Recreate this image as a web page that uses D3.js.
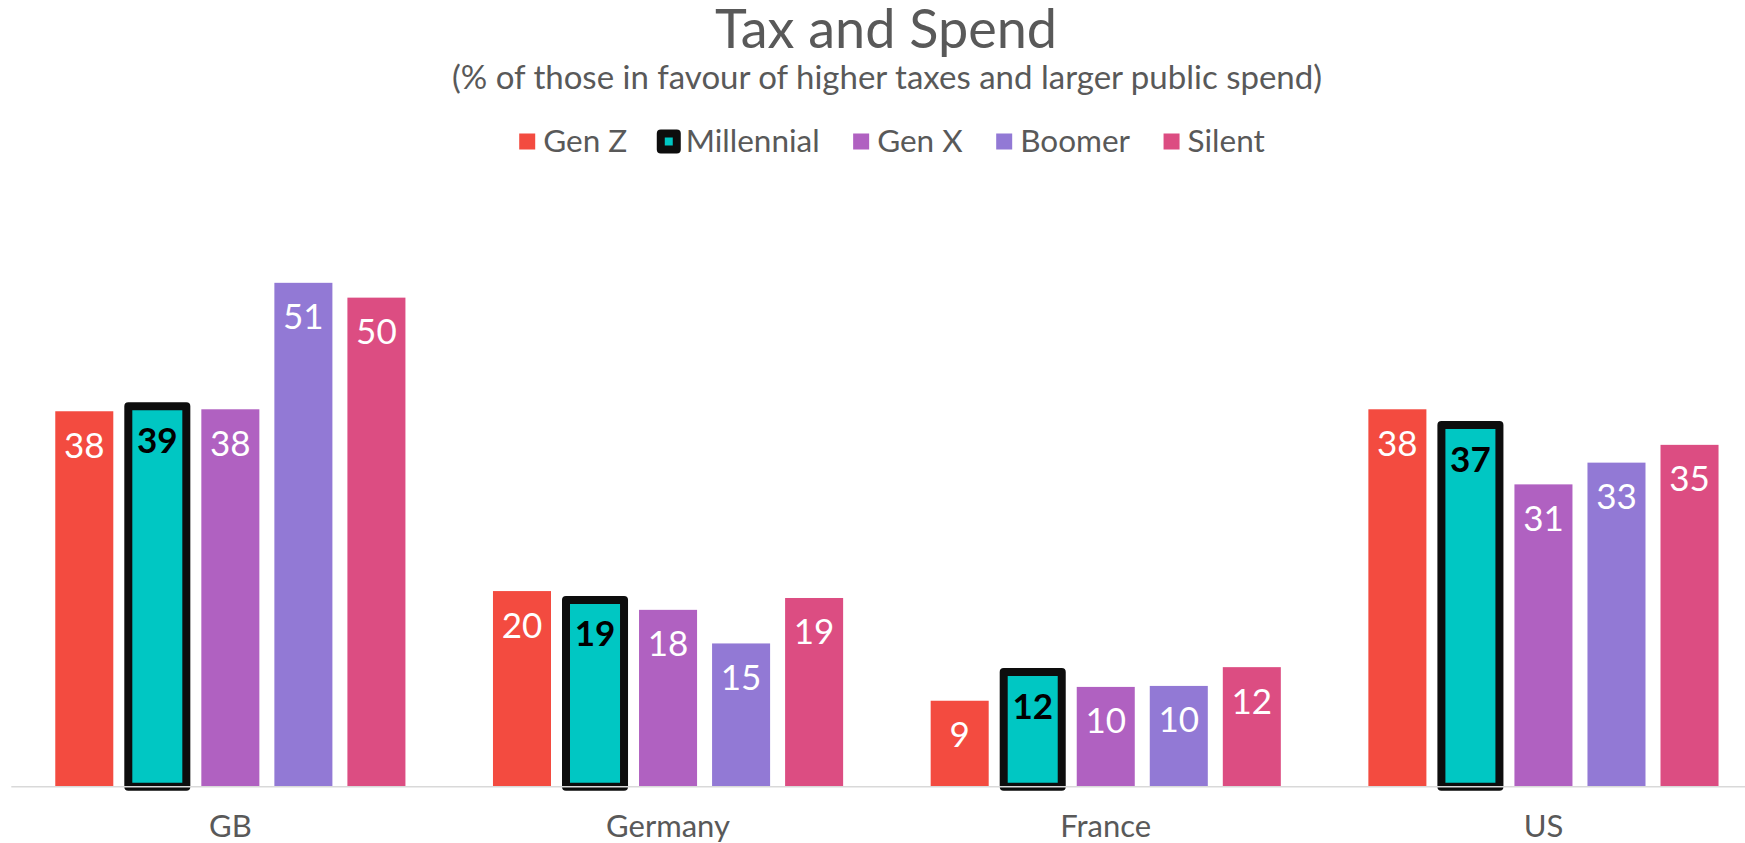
<!DOCTYPE html>
<html>
<head>
<meta charset="utf-8">
<script src="https://cdn.jsdelivr.net/npm/d3@7"></script>
<style>
  body { margin: 0; background: #fff; }
  svg { display: block; font-family: Lato, "Open Sans", sans-serif; }
</style>
</head>
<body>
<svg id="chart" width="1745" height="843"></svg>
<script>
// data
var countries = ["GB", "Germany", "France", "US"];
var generations = ["Gen Z", "Millennial", "Gen X", "Boomer", "Silent"];
var genZ       = [38.0, 19.8,  8.7, 38.2];
var millennial = [38.5, 18.9, 11.6, 36.6];
var genX       = [38.2, 17.9, 10.1, 30.6];
var boomer     = [51.0, 14.5, 10.2, 32.8];
var silent     = [49.5, 19.1, 12.1, 34.6];
var colors = ["#f34b40", "#00c7c3", "#b061c1", "#9279d5", "#dc4d82"];

var series = [genZ, millennial, genX, boomer, silent];
var highlight = "Millennial";

var width = 1745, height = 843;
var baseY = 786.7;
var textGrey = "#595959";

var svg = d3.select("#chart");

// scales
var x0 = d3.scaleBand().domain(countries).range([11.5, 1762.3])
  .paddingInner(0.2).paddingOuter(0.1);
var x1 = d3.scaleBand().domain(generations).range([0, x0.bandwidth()])
  .paddingInner(15 / 73);
var y = d3.scaleLinear().domain([0, 60]).range([baseY, baseY - 60 * 9.88]);

// title
svg.append("text").attr("x", 886).attr("y", 48)
  .attr("text-anchor", "middle").attr("fill", textGrey)
  .style("font-size", "54px").text("Tax and Spend");
svg.append("text").attr("x", 887).attr("y", 89)
  .attr("text-anchor", "middle").attr("fill", textGrey)
  .style("font-size", "33px")
  .text("(% of those in favour of higher taxes and larger public spend)");

// legend, laid out left to right then centred
var legend = svg.append("g");
var lx = 0;
generations.forEach(function (g, i) {
  var item = legend.append("g").attr("transform", "translate(" + lx + ",0)");
  var r = item.append("rect").attr("x", 0).attr("y", 133.5)
    .attr("width", 16).attr("height", 16).attr("fill", colors[i]);
  if (g === highlight) {
    r.attr("stroke", "#0d0d0d").attr("stroke-width", 8).attr("stroke-linejoin", "round");
  }
  var tx = g === highlight ? 25 : 24;
  var t = item.append("text").attr("x", tx).attr("y", 151.7)
    .attr("fill", textGrey).style("font-size", "31.5px").text(g);
  lx += tx + t.node().getComputedTextLength() + 33.5;
});
var legendW = lx - 33.5;
legend.attr("transform", "translate(" + (892 - legendW / 2) + ",0)");

// bars
var groups = svg.append("g").selectAll("g")
  .data(countries)
  .join("g")
  .attr("transform", function (d) { return "translate(" + x0(d) + ",0)"; });

var bars = groups.selectAll("g")
  .data(function (c, ci) {
    return generations.map(function (g, gi) {
      return { gen: g, value: series[gi][ci], color: colors[gi] };
    });
  })
  .join("g");

bars.append("rect")
  .attr("x", function (d) { return x1(d.gen); })
  .attr("y", function (d) { return y(d.value); })
  .attr("width", x1.bandwidth())
  .attr("height", function (d) { return baseY - y(d.value); })
  .attr("fill", function (d) { return d.color; })
  .attr("stroke", function (d) { return d.gen === highlight ? "#0d0d0d" : "none"; })
  .attr("stroke-width", 8)
  .attr("stroke-linejoin", "round");

bars.append("text")
  .attr("x", function (d) { return x1(d.gen) + x1.bandwidth() / 2; })
  .attr("y", function (d) { return y(d.value) + 46.5; })
  .attr("text-anchor", "middle")
  .attr("fill", function (d) { return d.gen === highlight ? "#000" : "#fff"; })
  .style("font-weight", function (d) { return d.gen === highlight ? "bold" : "normal"; })
  .style("font-size", "35px")
  .text(function (d) { return Math.round(d.value); });

// category axis
svg.append("line")
  .attr("x1", 11.3).attr("x2", width)
  .attr("y1", baseY).attr("y2", baseY)
  .attr("stroke", "#d9d9d9").attr("stroke-width", 1.5);

svg.append("g").selectAll("text")
  .data(countries)
  .join("text")
  .attr("x", function (d) { return x0(d) + x0.bandwidth() / 2; })
  .attr("y", 837)
  .attr("text-anchor", "middle")
  .attr("fill", textGrey)
  .style("font-size", "31px")
  .text(function (d) { return d; });
</script>
</body>
</html>
